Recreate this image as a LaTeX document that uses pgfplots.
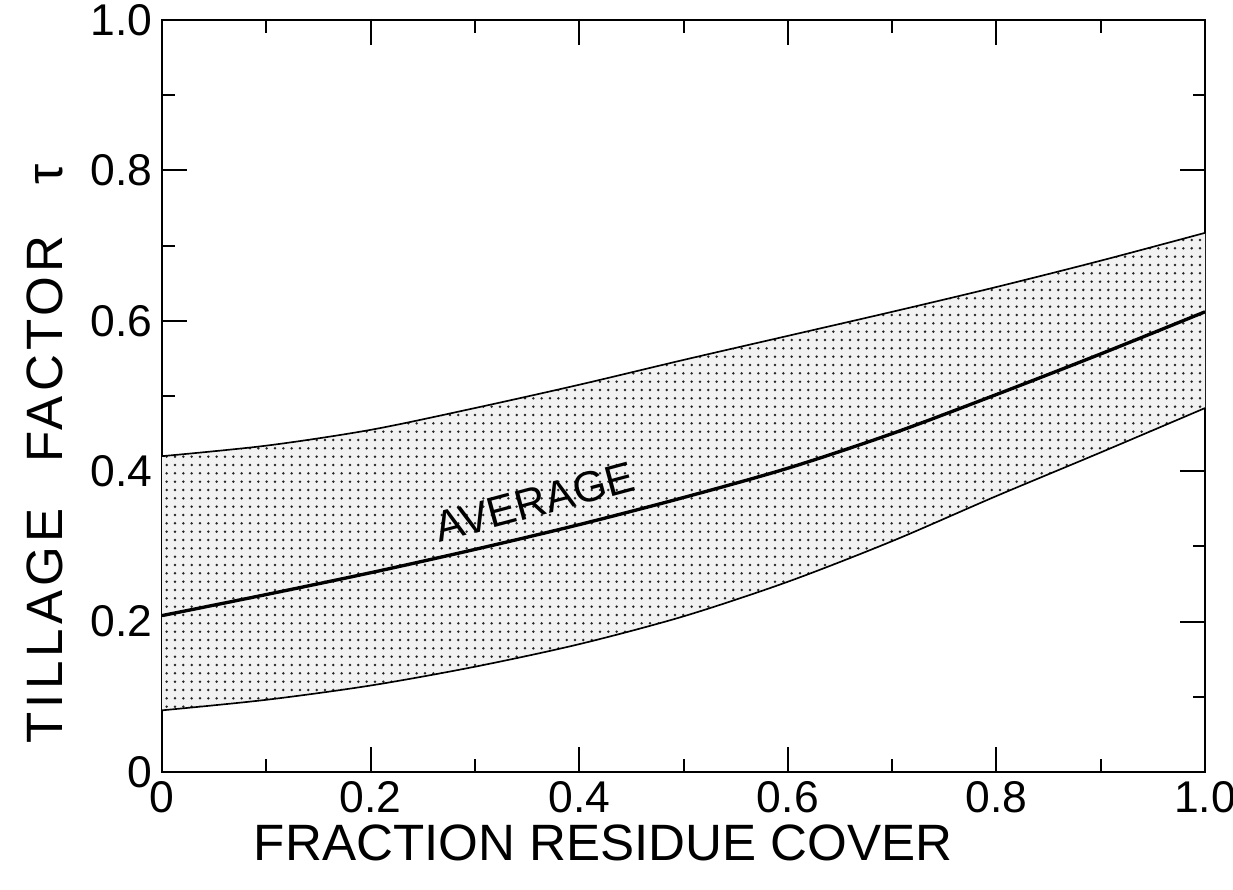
\documentclass[border=0pt]{standalone}
\usepackage{fontspec}
\setmainfont{Liberation Sans}
\usepackage{pgfplots}
\usepackage{pgfplotstable}
\pgfplotsset{compat=1.18}
\usetikzlibrary{patterns}
\usepgfplotslibrary{fillbetween}

% band limits and average
\pgfplotstableread{
x    upper  avg    lower
0.0  0.420  0.208  0.082
0.1  0.434  0.236  0.096
0.2  0.455  0.265  0.115
0.3  0.484  0.296  0.140
0.4  0.515  0.329  0.170
0.5  0.548  0.365  0.207
0.6  0.580  0.404  0.253
0.7  0.612  0.450  0.307
0.8  0.645  0.502  0.367
0.9  0.680  0.556  0.425
1.0  0.717  0.612  0.484
}\bandtable

\begin{document}
\begin{tikzpicture}
\begin{axis}[
    at={(0,0)}, anchor=south west,
    scale only axis,
    width=375.5pt, height=270.7pt,
    xmin=0, xmax=1, ymin=0, ymax=1,
    xtick={0,0.2,0.4,0.6,0.8,1},
    xticklabels={0,0.2,0.4,0.6,0.8,1.0},
    ytick={0,0.2,0.4,0.6,0.8,1},
    yticklabels={0,0.2,0.4,0.6,0.8,1.0},
    minor xtick={0.1,0.3,0.5,0.7,0.9},
    minor ytick={0.1,0.3,0.5,0.7,0.9},
    tick align=inside,
    major tick length=9pt,
    minor tick length=4.5pt,
    tick style={black, line width=0.7pt},
    axis line style={line width=0.7pt},
    tick label style={font=\fontsize{16}{16}\selectfont},
    xlabel={FRACTION RESIDUE COVER},
    xlabel style={font=\fontsize{18.4}{20}\selectfont,
        at={(axis description cs:0.423,0)}, anchor=center, yshift=-25.6pt},
    ylabel={\addfontfeature{LetterSpace=8}TILLAGE\hspace{0.9em}FACTOR\hspace{1em}τ},
    ylabel style={font=\fontsize{18.4}{20}\selectfont,
        at={(axis description cs:-0.112,0.423)}, anchor=center},
]
\addplot[name path=U, black, line width=0.6pt, smooth] table[x=x, y=upper]{\bandtable};
\addplot[name path=L, black, line width=0.6pt, smooth] table[x=x, y=lower]{\bandtable};
\addplot[gray!10] fill between[of=U and L];
\addplot[pattern=dots, pattern color=black!85] fill between[of=U and L];
\addplot[black, line width=1.2pt, smooth] table[x=x, y=avg]{\bandtable};
\node[rotate=15, anchor=base, inner sep=0pt, font=\fontsize{15.5}{15.5}\selectfont] at (axis cs:0.361,0.340) {AVERAGE};
\end{axis}
\pgfresetboundingbox
\path (-58.32pt,-42.48pt) rectangle (385.56pt,277.92pt);
\end{tikzpicture}
\end{document}
